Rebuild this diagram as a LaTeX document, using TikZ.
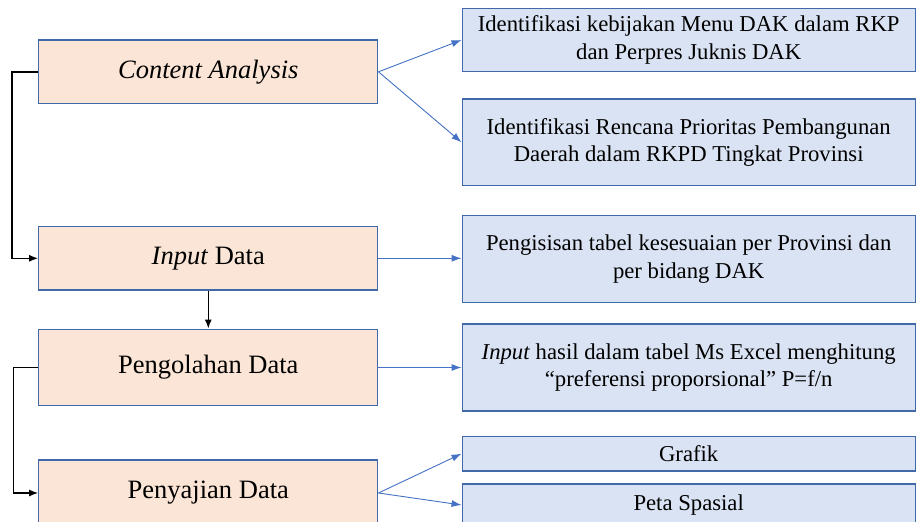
\documentclass[tikz,border=0pt]{standalone}
\usepackage{fontspec}
\setmainfont{Liberation Serif}
\usepackage{tikz}
\usetikzlibrary{arrows.meta,shapes,positioning}
\usepackage{xcolor}
\definecolor{stepline}{RGB}{65,105,170}
\definecolor{peach}{RGB}{251,229,214}
\definecolor{lightblue}{RGB}{218,227,243}
\definecolor{arrowblue}{RGB}{68,114,196}
\tikzstyle{arrow} = [->,>={Latex[length=10pt,width=7pt]},color=arrowblue,line width=0.9pt]
\tikzstyle{flow} = [->,>={Latex[length=9pt,width=7pt]},color=black,line width=1.4pt]
\tikzstyle{stage} = [rectangle, minimum width=339pt, text centered, draw=stepline, fill=peach, line width=1.3pt, inner sep=0pt, font=\fontsize{26.5}{32}\selectfont]
\tikzstyle{task} = [rectangle, minimum width=453pt, align=center, draw=stepline, fill=lightblue, line width=1.3pt, inner sep=0pt, font=\fontsize{22.7}{27.5}\selectfont]

\begin{document}
\begin{tikzpicture}[x=1pt, y=-1pt]
\clip (0,0) rectangle (916,522);
\fill[white] (0,0) rectangle (916,522);
% left column: stages
\node[stage, minimum height=63.5pt] (content) at (208.3,71.8) {\textit{Content Analysis}};
\node[stage, minimum height=63.5pt] (input) at (208.3,258.3) {\textit{Input} Data};
\node[stage, minimum height=76.5pt] (olah) at (208.3,367.5) {Pengolahan Data};
\node[stage, minimum height=66pt] (saji) at (208.3,493) {Penyajian Data};

% right column: tasks
\node[task, minimum height=63.5pt] (identa) at (688.7,40) {Identifikasi kebijakan Menu DAK dalam RKP\\dan Perpres Juknis DAK};
\node[task, minimum height=86.7pt] (identb) at (688.7,142.3) {Identifikasi Rencana Prioritas Pembangunan\\Daerah dalam RKPD Tingkat Provinsi};
\node[task, minimum height=86.7pt] (isi) at (688.7,259) {Pengisisan tabel kesesuaian per Provinsi dan\\per bidang DAK};
\node[task, minimum height=87pt] (hitung) at (688.7,367.5) {\textit{Input} hasil dalam tabel Ms Excel menghitung\\“preferensi proporsional” P=f/n};
\node[task, minimum height=34.7pt] (grafik) at (688.7,453.7) {Grafik};
\node[task, minimum height=42pt] (peta) at (688.7,505) {Peta Spasial};

% flow between stages
\draw[flow] (content.west) -- ++(-26,0) |- (input.west);
\draw[flow] (input.south) -- (olah.north);
\draw[flow] (olah.west) -- ++(-24.5,0) |- (saji.west);

% links to tasks
\draw[arrow] (content.east) -- (identa.west);
\draw[arrow] (content.east) -- (identb.west);
\draw[arrow] (input.east) -- (input.east -| isi.west);
\draw[arrow] (olah.east) -- (hitung.west);
\draw[arrow] (saji.east) -- (grafik.west);
\draw[arrow] (saji.east) -- (peta.west);
\end{tikzpicture}
\end{document}
